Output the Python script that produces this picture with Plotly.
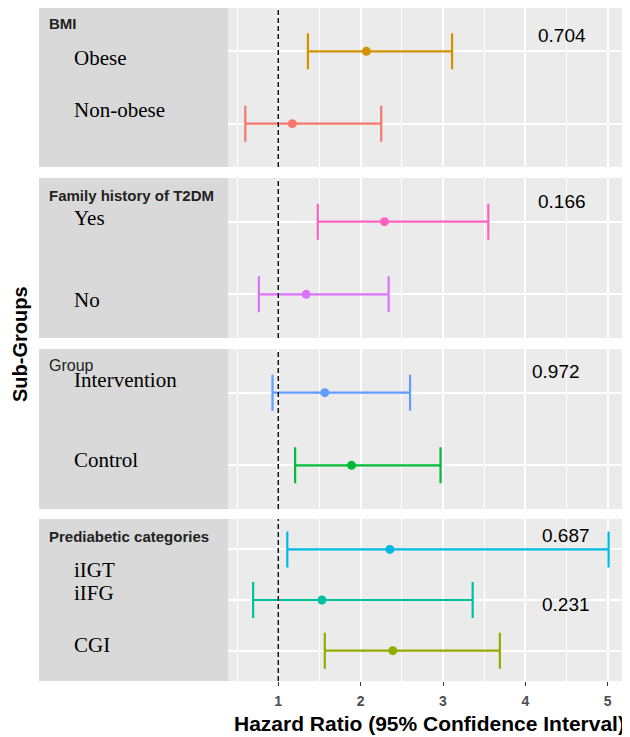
import plotly.graph_objects as go

# ---------------- data ----------------
panels = ["BMI", "Family history of T2DM", "Group", "Prediabetic categories"]
subgroups = [["Obese", "Non-obese"], ["Yes", "No"], ["Intervention", "Control"], ["iIGT", "iIFG", "CGI"]]
hr = [[2.07, 1.17], [2.29, 1.34], [1.565, 1.89], [2.355, 1.53, 2.39]]
lower = [[1.36, 0.60], [1.48, 0.765], [0.93, 1.205], [1.11, 0.695, 1.565]]
upper = [[3.11, 2.25], [3.55, 2.34], [2.60, 2.97], [5.01, 3.36, 3.69]]
p_text = ["0.704", "0.166", "0.972", "0.687", "0.231"]
p_panel = [0, 1, 2, 3, 3]
p_row = [0, 0, 0, 0, 1]
x_ticks = [1, 2, 3, 4, 5]
x_minor = [0.5, 1.5, 2.5, 3.5, 4.5]

# ---------------- style / layout ----------------
colors = [["#D39200", "#F8766D"], ["#FF61C3", "#DB72FB"], ["#619CFF", "#00BA38"],
          ["#00B9E3", "#00C19F", "#93AA00"]]
OFF = 8  # page body margin of the browser
W, H = 630 - OFF, 737 - OFF


def px(v):
    return v - OFF


def clamp(v):
    return max(0.0, min(1.0, v))


panel_px = [(8, 167), (178, 338), (349, 509), (519, 681)]
plot_left = 228
box_left = 39
title_y_px = [24, 195, 365, 536]
title_bold = [True, True, False, True]
label_y_px = [[58, 110], [218, 300], [380, 460], [570, 593, 645]]
p_x = [4.45, 4.45, 4.37, 4.49, 4.49]
p_shift = [16, 20, 21, 14, -4]

fig = go.Figure()
shapes = []
annotations = []

for i, name in enumerate(panels):
    n = len(subgroups[i])
    xa = "x" if i == 0 else f"x{i+1}"
    ya = "y" if i == 0 else f"y{i+1}"
    for j in range(n):
        fig.add_trace(go.Scatter(
            x=[hr[i][j]], y=[n - j], xaxis=xa, yaxis=ya, mode="markers",
            marker=dict(size=9, color=colors[i][j]),
            error_x=dict(type="data", symmetric=False,
                         array=[upper[i][j] - hr[i][j]],
                         arrayminus=[hr[i][j] - lower[i][j]],
                         color=colors[i][j], thickness=2.2, width=18),
            showlegend=False, hoverinfo="skip"))
    top, bot = panel_px[i]
    y0, y1 = clamp(1 - px(bot) / H), clamp(1 - px(top) / H)
    last = i == len(panels) - 1
    fig.layout[f"xaxis{'' if i == 0 else i+1}"] = dict(
        domain=[px(plot_left) / W, 1], range=[0.39, 5.27], anchor=ya,
        matches=None if i == 0 else "x",
        tickvals=x_ticks, ticktext=[str(t) for t in x_ticks],
        showticklabels=last, ticks="outside" if last else "",
        ticklen=4, tickwidth=1.2, tickcolor="#333333",
        tickfont=dict(family="Liberation Sans", size=14, color="#4D4D4D", weight="bold"),
        ticklabelstandoff=3,
        showgrid=True, gridcolor="white", gridwidth=1.6,
        minor=dict(tickvals=x_minor, showgrid=True, gridcolor="white", gridwidth=1.1),
        zeroline=False, showline=False, fixedrange=True)
    fig.layout[f"yaxis{'' if i == 0 else i+1}"] = dict(
        domain=[y0, y1], range=[0.4, n + 0.6], anchor=xa,
        tickvals=list(range(1, n + 1)), showticklabels=False, ticks="",
        showgrid=True, gridcolor="white", gridwidth=1.6,
        zeroline=False, showline=False, fixedrange=True)
    # grey label box
    shapes.append(dict(type="rect", xref="paper", yref="paper",
                       x0=px(box_left) / W, x1=px(plot_left) / W, y0=y0, y1=y1,
                       fillcolor="#D9D9D9", line=dict(width=0), layer="below"))
    # reference line at HR = 1
    shapes.append(dict(type="line", xref=xa, yref=f"{ya} domain",
                       x0=1, x1=1, y0=0, y1=1,
                       line=dict(color="black", width=1.4, dash="5px,3px")))
    # panel title
    annotations.append(dict(
        text=f"<b>{name}</b>" if title_bold[i] else name,
        xref="paper", yref="paper", x=px(47) / W, y=1 - px(title_y_px[i]) / H,
        xanchor="left", yanchor="middle", showarrow=False,
        font=dict(family="Liberation Sans", size=15 if title_bold[i] else 16, color="#222222")))
    # subgroup labels
    for j, lab in enumerate(subgroups[i]):
        annotations.append(dict(
            text=lab, xref="paper", yref="paper", x=px(72) / W, y=1 - px(label_y_px[i][j]) / H,
            xanchor="left", yanchor="middle", showarrow=False,
            font=dict(family="Liberation Serif", size=21, color="black")))

# p-values
for k, t in enumerate(p_text):
    i = p_panel[k]
    n = len(subgroups[i])
    xa = "x" if i == 0 else f"x{i+1}"
    ya = "y" if i == 0 else f"y{i+1}"
    annotations.append(dict(
        text=t, xref=xa, yref=ya, x=p_x[k], y=n - p_row[k], yshift=p_shift[k],
        xanchor="center", yanchor="middle", showarrow=False,
        font=dict(family="Liberation Sans", size=19, color="black")))

# axis titles
annotations.append(dict(
    text="<b>Hazard Ratio (95% Confidence Interval)</b>", xref="paper", yref="paper",
    x=(px(plot_left) + W) / 2 / W, y=1 - px(723) / H, xanchor="center", yanchor="middle",
    showarrow=False, font=dict(family="Liberation Sans", size=21, color="black")))
annotations.append(dict(
    text="<b>Sub-Groups</b>", xref="paper", yref="paper",
    x=px(20) / W, y=1 - px(344) / H, xanchor="center", yanchor="middle", textangle=-90,
    showarrow=False, font=dict(family="Liberation Sans", size=20, color="black")))

fig.update_layout(
    width=W, height=H, margin=dict(l=0, r=0, t=0, b=0),
    paper_bgcolor="white", plot_bgcolor="#EBEBEB",
    shapes=shapes, annotations=annotations, showlegend=False)

fig.write_html("out.html")
